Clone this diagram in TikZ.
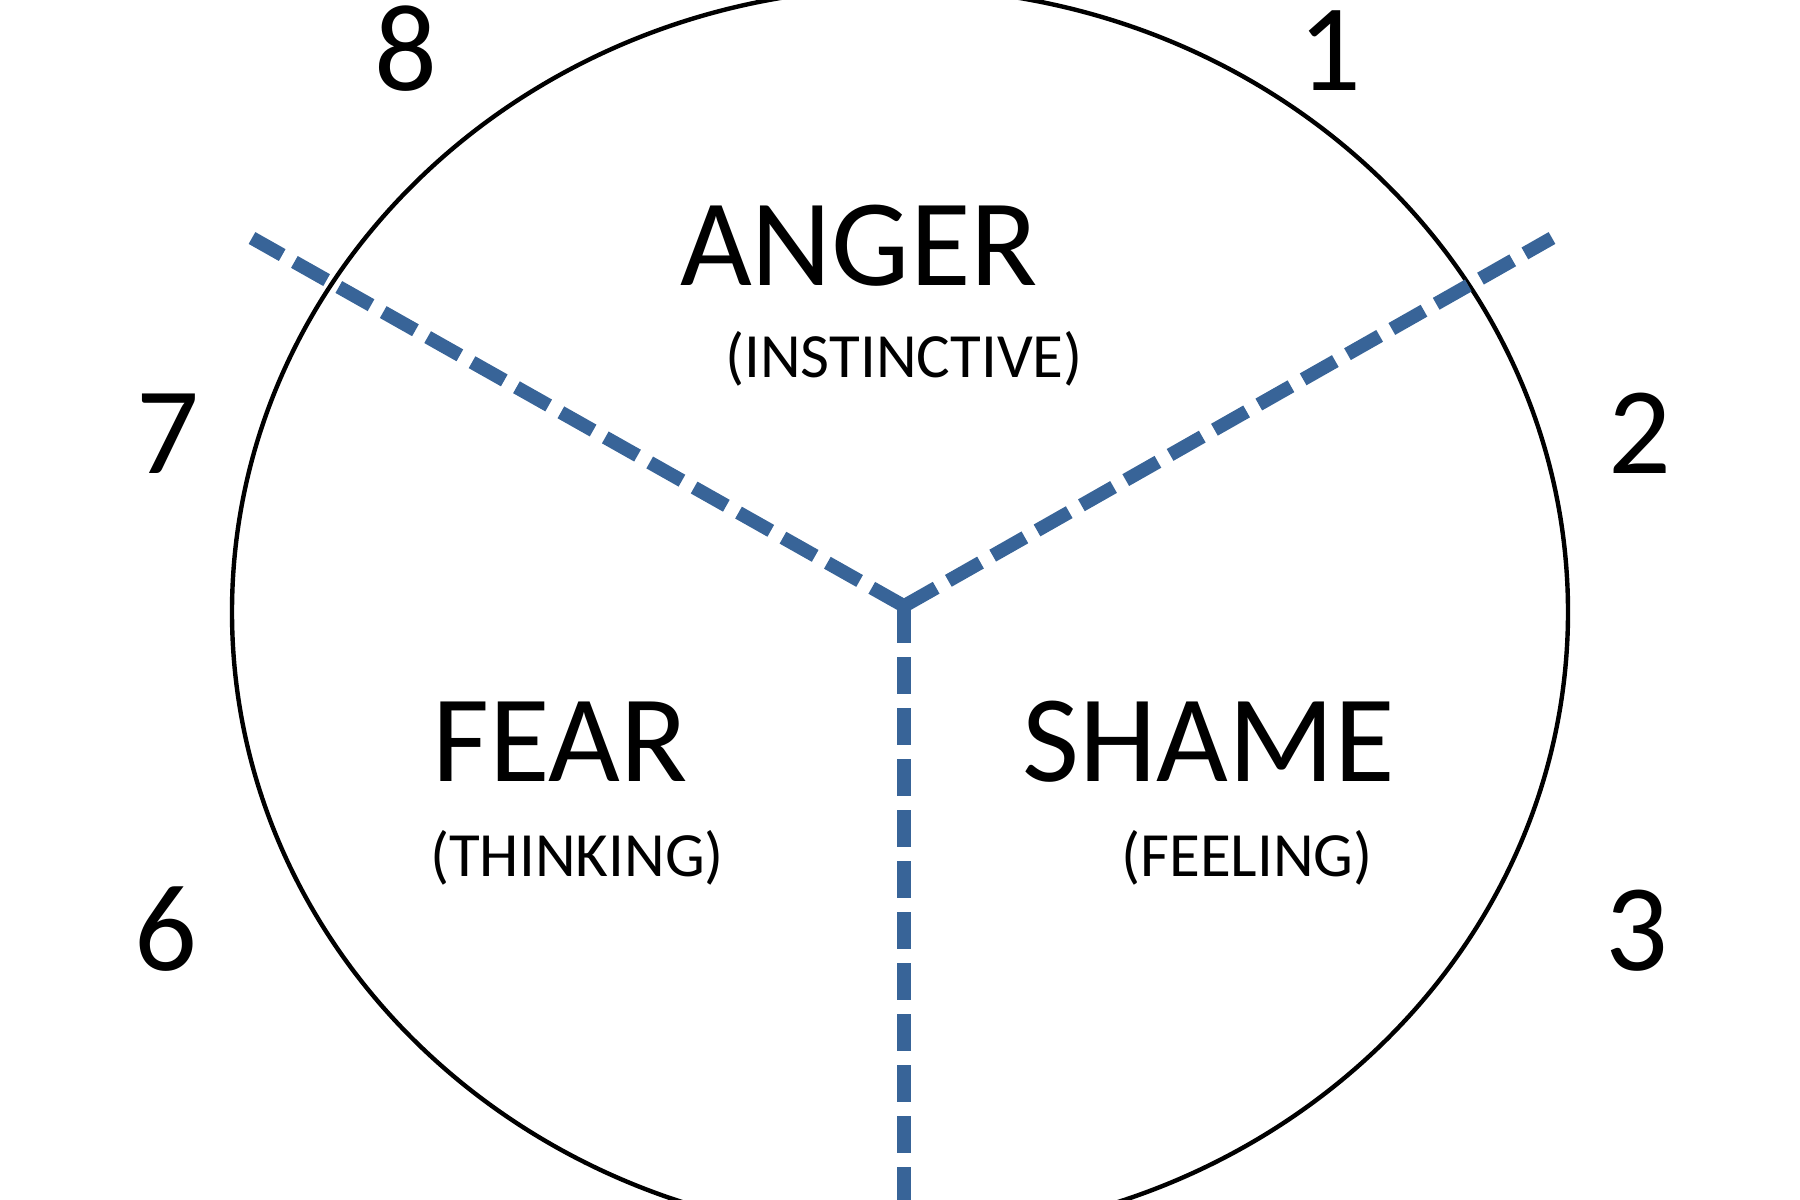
\documentclass[tikz,border=0pt]{standalone}
\usepackage{fontspec}
\setmainfont{Carlito}
\definecolor{dashblue}{RGB}{56,100,152}
\begin{document}
\begin{tikzpicture}[x=0.5pt,y=-0.5pt,
  big/.style={font=\fontsize{62}{62}\selectfont, inner sep=0pt, anchor=base},
  small/.style={font=\fontsize{31.5}{31.5}\selectfont, inner sep=0pt, anchor=base},
  divider/.style={draw=dashblue, line width=6.8pt, dash pattern=on 18.5pt off 7pt}]
\useasboundingbox (0,0) rectangle (1800,1200);
\clip (0,0) rectangle (1800,1200);
\draw[line width=2.2pt] (900,612) ellipse [x radius=668, y radius=624];
\coordinate (hub) at (904,606);
\coordinate (ul) at (252,238);
\coordinate (ur) at (1552,238);
\coordinate (bot) at (904,1215);
\draw[divider] (hub) -- (ul);
\draw[divider] (hub) -- (ur);
\draw[divider] (hub) -- (bot);
\node[big] (anger) at (859,285) {ANGER};
\node[small] (instinct) at (904,377) {(INSTINCTIVE)};
\node[big] (fear) at (560,781) {FEAR};
\node[small] (thinking) at (577,876) {(THINKING)};
\node[big] (shame) at (1209,781) {SHAME};
\node[small] (feeling) at (1247,876) {(FEELING)};
\node[big] (n8) at (406,90) {8};
\node[big] (n1) at (1330,90) {1};
\node[big] (n7) at (168,473) {7};
\node[big] (n2) at (1640,473) {2};
\node[big] (n6) at (166,970) {6};
\node[big] (n3) at (1637,970) {3};
\end{tikzpicture}
\end{document}
